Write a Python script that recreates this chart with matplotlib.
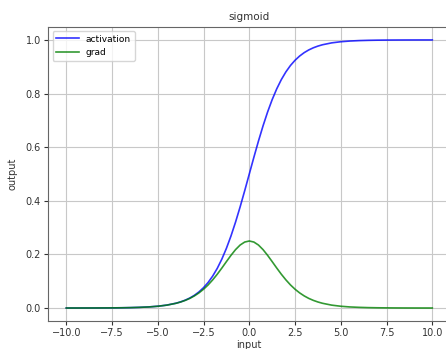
import matplotlib
matplotlib.use("Agg")
import matplotlib.pyplot as plt

x_input = [-10, -9.5, -9, -8.5, -8, -7.5, -7, -6.5, -6, -5.5, -5, -4.5,
           -4, -3.75, -3.5, -3.25, -3, -2.75, -2.5, -2.25, -2, -1.75, -1.5, -1.25,
           -1, -0.75, -0.5, -0.25, 0, 0.25, 0.5, 0.75, 1, 1.25, 1.5, 1.75,
           2, 2.25, 2.5, 2.75, 3, 3.25, 3.5, 3.75, 4,
           4.5, 5, 5.5, 6, 6.5, 7, 7.5, 8, 8.5, 9, 9.5, 10]

activation = [0.00005, 0.00007, 0.00012, 0.0002, 0.00034, 0.00055, 0.0009, 0.0015, 0.0025, 0.0041, 0.0067, 0.011,
              0.018, 0.023, 0.0293, 0.0373, 0.0474, 0.0601, 0.0759, 0.0953, 0.1192, 0.148, 0.1824, 0.2227,
              0.2689, 0.3208, 0.3775, 0.4378, 0.5, 0.5622, 0.6225, 0.6792, 0.7311, 0.7773, 0.8176, 0.852,
              0.8808, 0.9047, 0.9241, 0.9399, 0.9526, 0.9627, 0.9707, 0.977, 0.982,
              0.989, 0.9933, 0.9959, 0.9975, 0.9985, 0.9991, 0.99945, 0.99966, 0.9998, 0.99988, 0.99993, 0.99995]

grad = [0.00005, 0.00007, 0.00012, 0.0002, 0.00034, 0.00055, 0.0009, 0.0015, 0.0025, 0.004, 0.0066, 0.0108,
        0.0177, 0.0225, 0.0285, 0.0359, 0.0452, 0.0565, 0.0701, 0.0862, 0.105, 0.1261, 0.1491, 0.1731,
        0.1966, 0.2179, 0.235, 0.2461, 0.25, 0.2461, 0.235, 0.2179, 0.1966, 0.1731, 0.1491, 0.1261,
        0.105, 0.0862, 0.0701, 0.0565, 0.0452, 0.0359, 0.0285, 0.0225, 0.0177,
        0.0108, 0.0066, 0.004, 0.0025, 0.0015, 0.0009, 0.00055, 0.00034, 0.0002, 0.00012, 0.00007, 0.00005]

fig = plt.figure(figsize=(4.46, 3.49), dpi=100)
ax = fig.add_axes([0.1076, 0.079, 0.9027, 0.845])
ax.plot(x_input, activation, color='blue', alpha=0.8, lw=1.2, label='activation')
ax.plot(x_input, grad, color='green', alpha=0.8, lw=1.2, label='grad')
ax.set_xlim(-11, 11)
ax.set_ylim(-0.05, 1.05)
ax.set_title('sigmoid', fontsize=7.5, color='#333333', pad=5)
ax.set_xlabel('input', fontsize=7, color='#333333', labelpad=1)
ax.set_ylabel('output', fontsize=7, color='#333333', labelpad=6)
ax.set_xticks([-10, -7.5, -5, -2.5, 0, 2.5, 5, 7.5, 10])
ax.set_yticks([0.0, 0.2, 0.4, 0.6, 0.8, 1.0])
ax.tick_params(labelsize=7, colors='#333333', length=3, pad=2)
for lab in ax.get_xticklabels() + ax.get_yticklabels():
    lab.set_color('#333333')
ax.grid(True, color='#c8c8c8', lw=0.8)
for s in ax.spines.values():
    s.set_color('#666666')
ax.spines['right'].set_visible(False)
ax.legend(loc='upper left', fontsize=6.5, handlelength=2.5, framealpha=0.8)
fig.savefig('out.png', dpi=100)
